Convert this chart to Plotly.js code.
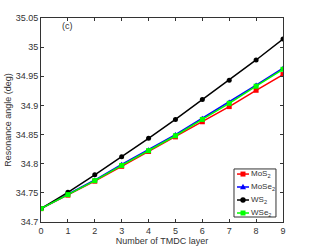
<!DOCTYPE html>
<html><head><meta charset="utf-8">
<script src="https://cdn.plot.ly/plotly-3.0.1.min.js"></script>
<style>body{margin:0;background:#fff}#c{width:313px;height:251px}</style>
</head><body><div id="c"></div>
<script>
const layers = [0,1,2,3,4,5,6,7,8,9];
const mos2  = [34.723,34.746,34.770,34.7955,34.821,34.846,34.872,34.898,34.926,34.953];
const mose2 = [34.723,34.748,34.772,34.799,34.824,34.850,34.878,34.906,34.935,34.964];
const ws2   = [34.723,34.751,34.781,34.812,34.8435,34.876,34.910,34.943,34.978,35.014];
const wse2  = [34.723,34.747,34.771,34.797,34.8224,34.848,34.876,34.9036,34.933,34.962];
const names = ['MoS<sub>2</sub>','MoSe<sub>2</sub>','WS<sub>2</sub>','WSe<sub>2</sub>'];
const yticks = [34.7,34.75,34.8,34.85,34.9,34.95,35,35.05];

const series = [
  {y: mos2,  color:'#ff0000', symbol:'square'},
  {y: mose2, color:'#0000ff', symbol:'triangle-up'},
  {y: ws2,   color:'#000000', symbol:'circle'},
  {y: wse2,  color:'#00ff00', symbol:'square'}
];
const data = series.map((s,i)=>({
  x: layers, y: s.y, name: names[i], type:'scatter', mode:'lines+markers',
  line:{color:s.color, width:1.5},
  marker:{color:s.color, symbol:s.symbol, size:5},
  showlegend:false
}));
const ax = {
  showline:true, linecolor:'#333', linewidth:1, mirror:'allticks',
  ticks:'inside', ticklen:3, tickcolor:'#333', showgrid:false, zeroline:false,
  tickfont:{size:9, color:'#333'}
};

// compact legend (Plotly's built-in legend cannot be made this tight)
const shapes = [];
const annotations = [{xref:'paper', yref:'paper', x:0.08, y:0.995, xanchor:'left', yanchor:'top',
    text:'(c)', showarrow:false, font:{size:9, color:'#333'}}];
shapes.push({type:'rect', xref:'paper', yref:'paper', x0:0.7975, x1:0.971, y0:0.0245, y1:0.26,
  line:{color:'#333', width:1}, fillcolor:'#fff', layer:'above'});
const ly = [0.235, 0.1716, 0.1078, 0.0441];
const mx = 0.8347;
series.forEach((s,i)=>{
  shapes.push({type:'line', xref:'paper', yref:'paper', x0:0.81, x1:0.8595, y0:ly[i], y1:ly[i],
    line:{color:s.color, width:1.5}, layer:'above'});
  const base = {xref:'paper', yref:'paper', xsizemode:'pixel', ysizemode:'pixel',
    xanchor:mx, yanchor:ly[i], fillcolor:s.color, line:{color:s.color, width:0}, layer:'above'};
  if (s.symbol==='square') shapes.push(Object.assign({type:'rect', x0:-2.5, x1:2.5, y0:-2.5, y1:2.5}, base));
  else if (s.symbol==='circle') shapes.push(Object.assign({type:'circle', x0:-2.7, x1:2.7, y0:-2.7, y1:2.7}, base));
  else shapes.push(Object.assign({type:'path', path:'M-3,-2.2 L3,-2.2 L0,3.2 Z'}, base));
  annotations.push({xref:'paper', yref:'paper', x:0.8636, y:ly[i], xanchor:'left', yanchor:'middle',
    text:names[i], showarrow:false, font:{size:8, color:'#333'}, borderpad:0});
});

const layout = {
  width:313, height:251, margin:{l:41,r:30,t:18,b:29},
  paper_bgcolor:'#fff', plot_bgcolor:'#fff',
  font:{family:'Liberation Sans, Arial, sans-serif', size:9, color:'#333'},
  xaxis: Object.assign({}, ax, {range:[0,9], tickvals:layers, ticktext:layers.map(String),
    title:{text:'Number of TMDC layer', font:{size:9}, standoff:1}}),
  yaxis: Object.assign({}, ax, {range:[34.7,35.05], tickvals:yticks, ticktext:yticks.map(String),
    title:{text:'Resonance angle (deg)', font:{size:9}, standoff:2}}),
  showlegend:false,
  shapes: shapes,
  annotations: annotations
};
Plotly.newPlot('c', data, layout, {displayModeBar:false, staticPlot:true});
</script></body></html>
